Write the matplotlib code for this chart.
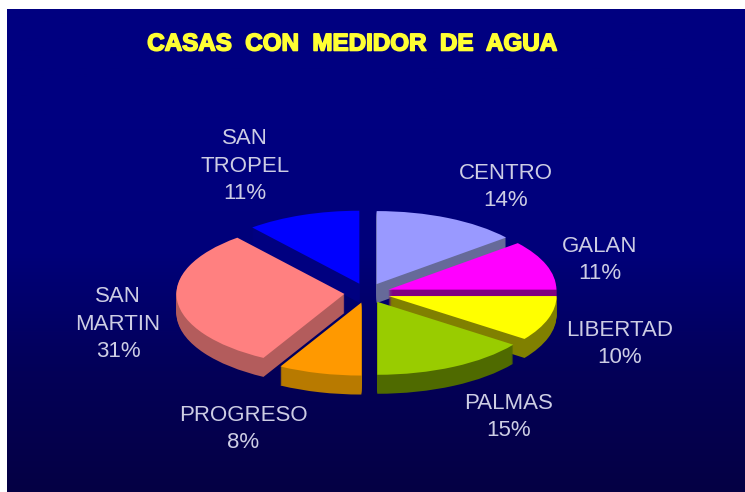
import matplotlib
matplotlib.use("Agg")
import matplotlib.pyplot as plt
import matplotlib.patheffects as pe
import numpy as np
from matplotlib.colors import LinearSegmentedColormap

W, H = 745, 492

barrios = ["CENTRO", "GALAN", "LIBERTAD", "PALMAS", "PROGRESO", "SAN\nMARTIN", "SAN\nTROPEL"]
valores = [14, 11, 10, 15, 8, 31, 11]
colores = ["#9999ff", "#ff00ff", "#ffff00", "#99cc00", "#ff9900", "#ff8080", "#0000ff"]
paredes = ["#666a99", "#800080", "#808000", "#4f6a00", "#b87a00", "#b35c5c", "#000080"]
titulo = "CASAS  CON  MEDIDOR  DE  AGUA"

# pixel layout of the squashed pie
cx, cy = 367, 293
rx, ry = 168, 73
grosor = 19
separacion = 0.135

# centre of each label, pixels
pos_etiquetas = [(506, 187), (600, 260), (620, 344), (509, 417), (243, 429), (118, 324), (245, 166)]

plt.rcParams["font.family"] = ["Liberation Sans", "DejaVu Sans"]

fig = plt.figure(figsize=(W / 100, H / 100), dpi=100, facecolor="white")

# background panel
fondo = fig.add_axes([7 / W, 0, 1 - 7 / W, 1 - 9 / H])
fondo.axis("off")
cmap = LinearSegmentedColormap.from_list("fondo", ["#000080", "#000080", "#00007a", "#030058", "#050044"])
fondo.imshow(np.linspace(0, 1, 256).reshape(-1, 1), cmap=cmap, aspect="auto")

ax = fig.add_axes([0, 0, 1, 1])
ax.patch.set_alpha(0)

# side walls: stack of dark pies going up, then the top face
for k in range(grosor, 0, -1):
    ax.pie(valores, colors=paredes, startangle=90, counterclock=False,
           explode=[separacion] * len(valores), center=(0, -k / ry))
ax.pie(valores, colors=colores, startangle=90, counterclock=False,
       explode=[separacion] * len(valores))

ax.set_aspect("auto")
ax.set_xlim(-cx / rx, (W - cx) / rx)
ax.set_ylim(-(H - cy) / ry, cy / ry)
ax.axis("off")

for nombre, v, (px, py) in zip(barrios, valores, pos_etiquetas):
    fig.text(px / W, 1 - py / H, f"{nombre}\n{v}%", color="#cdcde4", fontsize=16,
             ha="center", va="center", linespacing=1.43, multialignment="center")

fig.text(352 / W, 1 - 44 / H, titulo, color="#ffff33", fontsize=17.4, fontweight="bold",
         ha="center", va="center",
         path_effects=[pe.withStroke(linewidth=1.2, foreground="#ffff33")])

fig.savefig("out.png", dpi=100, facecolor=fig.get_facecolor())
